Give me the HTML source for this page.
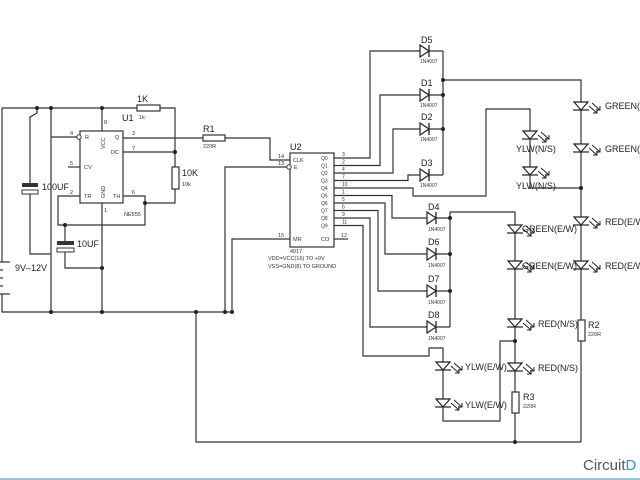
<!DOCTYPE html>
<html><head><meta charset="utf-8"><style>
html,body{margin:0;padding:0;background:#fff;}
svg{display:block;font-family:"Liberation Sans",sans-serif;}
</style></head><body>
<svg width="640" height="480" viewBox="0 0 640 480" xmlns="http://www.w3.org/2000/svg">
<defs>
<g id="led">
 <polygon points="-7,-4 7,-4 0,4" fill="#fff" stroke="#222" stroke-width="1.2"/>
 <line x1="-8" y1="4" x2="8" y2="4" stroke="#222" stroke-width="1.2"/>
 <path d="M8 0 L16 7 M12 7 H16 V3 M11 -3 L19 4 M15 4 H19 V0" fill="none" stroke="#222" stroke-width="1"/>
</g>
<g id="dio">
 <polygon points="-5,-6 -5,6 4,0" fill="#fff" stroke="#222" stroke-width="1.2"/>
 <line x1="4" y1="-6" x2="4" y2="6" stroke="#222" stroke-width="1.3"/>
</g>
</defs>
<g fill="none" stroke="#333" stroke-width="1.2">
 <!-- left section -->
 <path d="M2 108 H175 V203 H145"/>
 <path d="M2 108 V262 M2 298 V312 H232"/>
 <path d="M123 152 H175"/>
 <path d="M123 196 H145 V225 H58 V196 H80"/>
 <path d="M51 108 V312 M51 137 H77"/>
 <path d="M68 167 H80"/>
 <path d="M102 108 V131 M102 203 V312"/>
 <path d="M123 138 H270 V160 H290"/>
 <path d="M225 312 V167 H287"/>
 <path d="M232 312 V239 H290"/>
 <path d="M37 108 V113 L30 117 V184 M30 194 V254 H51"/>
 <path d="M65 225 V242 M65 252 V268 H102"/>
 <path d="M196 312 V442 H581"/>
 <!-- 4017 outputs -->
 <path d="M334 158 H370 V51 H443"/>
 <path d="M334 165.5 H380 V95 H443"/>
 <path d="M334 173 H393 V129 H443"/>
 <path d="M334 180.5 H408 V175 H443"/>
 <path d="M443 51 V175 M443 80 H581 V442"/>
 <path d="M334 188 H413 V196 H486 V109 H530 V188 H581"/>
 <path d="M334 195.5 H392 V218 H450"/>
 <path d="M334 203 H385 V254 H450"/>
 <path d="M334 210.5 H378 V291 H450"/>
 <path d="M334 218 H370 V327 H450"/>
 <path d="M450 212 V327 M450 212 H515 V442"/>
 <path d="M334 225.5 H363 V356 H429 V348 H443 V421 H500 V341 H515"/>
 <path d="M334 239 H348"/>
</g>
<!-- chips -->
<rect x="80" y="131" width="43" height="72" fill="#fff" stroke="#333" stroke-width="1.2"/>
<circle cx="79" cy="137" r="2.2" fill="#fff" stroke="#333"/>
<rect x="290" y="153" width="44" height="94" fill="#fff" stroke="#333" stroke-width="1.2"/>
<circle cx="289" cy="167" r="2.2" fill="#fff" stroke="#333"/>
<!-- resistors -->
<g fill="#fff" stroke="#333" stroke-width="1.2">
 <rect x="137" y="105" width="23" height="6"/>
 <rect x="203" y="135" width="22" height="6"/>
 <rect x="172" y="167" width="7" height="22"/>
 <rect x="578" y="320" width="7" height="21"/>
 <rect x="512" y="392" width="7" height="21"/>
</g>
<!-- caps -->
<rect x="22" y="183" width="16" height="4" fill="#333"/>
<rect x="22" y="190" width="16" height="4" fill="#fff" stroke="#333"/>
<rect x="57" y="241" width="17" height="4" fill="#333"/>
<rect x="57" y="248" width="17" height="4" fill="#fff" stroke="#333"/>
<!-- battery -->
<g stroke="#333" stroke-width="1.2">
 <line x1="0" y1="262" x2="10" y2="262"/><line x1="0" y1="270" x2="3" y2="270"/>
 <line x1="0" y1="278" x2="3" y2="278"/><line x1="0" y1="286" x2="3" y2="286"/>
 <line x1="0" y1="294" x2="10" y2="294"/><line x1="2" y1="294" x2="2" y2="298"/>
</g>
<!-- diodes -->
<use href="#dio" x="425" y="51"/><use href="#dio" x="425" y="95"/>
<use href="#dio" x="425" y="129"/><use href="#dio" x="425" y="175"/>
<use href="#dio" x="432" y="218"/><use href="#dio" x="432" y="254"/>
<use href="#dio" x="432" y="291"/><use href="#dio" x="432" y="327"/>
<!-- leds -->
<use href="#led" x="581" y="106"/><use href="#led" x="581" y="148"/>
<use href="#led" x="581" y="221"/><use href="#led" x="581" y="265"/>
<use href="#led" x="530" y="135"/><use href="#led" x="530" y="171"/>
<use href="#led" x="515" y="229"/><use href="#led" x="515" y="265"/>
<use href="#led" x="515" y="323"/><use href="#led" x="515" y="367"/>
<use href="#led" x="443" y="366"/><use href="#led" x="443" y="403"/>
<!-- dots -->
<g fill="#222">
 <circle cx="37" cy="108" r="2"/><circle cx="51" cy="108" r="2"/><circle cx="102" cy="108" r="2"/>
 <circle cx="175" cy="152" r="2"/><circle cx="145" cy="203" r="2"/><circle cx="65" cy="225" r="2"/>
 <circle cx="102" cy="268" r="2"/><circle cx="51" cy="312" r="2"/><circle cx="102" cy="312" r="2"/>
 <circle cx="196" cy="312" r="2"/><circle cx="225" cy="312" r="2"/><circle cx="232" cy="312" r="2"/>
 <circle cx="443" cy="80" r="2"/><circle cx="443" cy="95" r="2"/><circle cx="443" cy="129" r="2"/>
 <circle cx="450" cy="218" r="2"/><circle cx="450" cy="254" r="2"/><circle cx="450" cy="291" r="2"/>
 <circle cx="581" cy="188" r="2"/><circle cx="515" cy="341" r="2"/><circle cx="515" cy="442" r="2"/>
</g>
<!-- text -->
<g fill="#222" font-size="9">
 <text x="137" y="102">1K</text><text x="122" y="121">U1</text>
 <text x="203" y="132">R1</text><text x="182" y="176">10K</text>
 <text x="42" y="190">100UF</text><text x="77" y="247">10UF</text>
 <text x="15" y="271">9V–12V</text><text x="290" y="150">U2</text>
 <text x="421" y="43">D5</text><text x="421" y="86">D1</text><text x="421" y="120">D2</text>
 <text x="421" y="166">D3</text><text x="428" y="210">D4</text><text x="428" y="245">D6</text>
 <text x="428" y="282">D7</text><text x="428" y="318">D8</text>
 <text x="605" y="109">GREEN(N/S)</text><text x="605" y="152">GREEN(N/S)</text>
 <text x="605" y="225">RED(E/W)</text><text x="605" y="269">RED(E/W)</text>
 <text x="516" y="152">YLW(N/S)</text><text x="516" y="189">YLW(N/S)</text>
 <text x="522" y="232">GREEN(E/W)</text><text x="522" y="269">GREEN(E/W)</text>
 <text x="538" y="327">RED(N/S)</text><text x="538" y="371">RED(N/S)</text>
 <text x="465" y="370">YLW(E/W)</text><text x="465" y="408">YLW(E/W)</text>
 <text x="588" y="328">R2</text><text x="523" y="400">R3</text>
</g>
<g fill="#333" font-size="5.5">
 <text x="139" y="119">1k</text><text x="203" y="148">220R</text><text x="182" y="186">10k</text>
 <text x="588" y="336">220R</text><text x="523" y="408">220R</text>
 <text x="85" y="139">R</text><text x="115" y="139">Q</text><text x="111" y="154">DC</text>
 <text x="84" y="169">CV</text><text x="84" y="198">TR</text><text x="113" y="198">TH</text>
 <text x="124" y="216">NE555</text>
 <text x="70" y="135">4</text><text x="70" y="165">5</text><text x="70" y="194">2</text>
 <text x="132" y="135">3</text><text x="132" y="150">7</text><text x="132" y="194">6</text>
 <text x="104" y="124">8</text><text x="104" y="212">1</text>
 <text transform="translate(105,149) rotate(-90)">VCC</text>
 <text transform="translate(105,198) rotate(-90)">GND</text>
 <text x="293" y="162">CLK</text><text x="294" y="169">E</text><text x="293" y="241">MR</text>
 <text x="321" y="241">CO</text>
 <text x="278" y="158">14</text><text x="278" y="165">13</text><text x="278" y="237">15</text>
 <text x="341" y="237">12</text>
 <text x="290" y="253">4017</text>
 <text x="268" y="260">VDD=VCC(16) TO +9V</text>
 <text x="268" y="268">VSS=GND(8) TO GROUND</text>
</g>
<g fill="#333" font-size="5">
 <text x="321" y="160">Q0</text><text x="321" y="167.5">Q1</text><text x="321" y="175">Q2</text>
 <text x="321" y="182.5">Q3</text><text x="321" y="190">Q4</text><text x="321" y="197.5">Q5</text>
 <text x="321" y="205">Q6</text><text x="321" y="212.5">Q7</text><text x="321" y="220">Q8</text>
 <text x="321" y="227.5">Q9</text>
 <text x="342" y="156">3</text><text x="342" y="163.5">2</text><text x="342" y="171">4</text>
 <text x="342" y="178.5">7</text><text x="342" y="186">10</text><text x="342" y="193.5">1</text>
 <text x="342" y="201">5</text><text x="342" y="208.5">6</text><text x="342" y="216">9</text>
 <text x="342" y="223.5">11</text>
 <text x="420" y="63">1N4007</text><text x="420" y="107">1N4007</text><text x="420" y="141">1N4007</text>
 <text x="420" y="187">1N4007</text><text x="428" y="231">1N4007</text><text x="428" y="267">1N4007</text>
 <text x="428" y="304">1N4007</text><text x="428" y="340">1N4007</text>
</g>
<text x="583" y="470" font-size="15" fill="#555">Circuit<tspan fill="#3a8fc8">D</tspan></text>
<rect x="0" y="478" width="640" height="2" fill="#9cc3dc"/>
</svg>
</body></html>
